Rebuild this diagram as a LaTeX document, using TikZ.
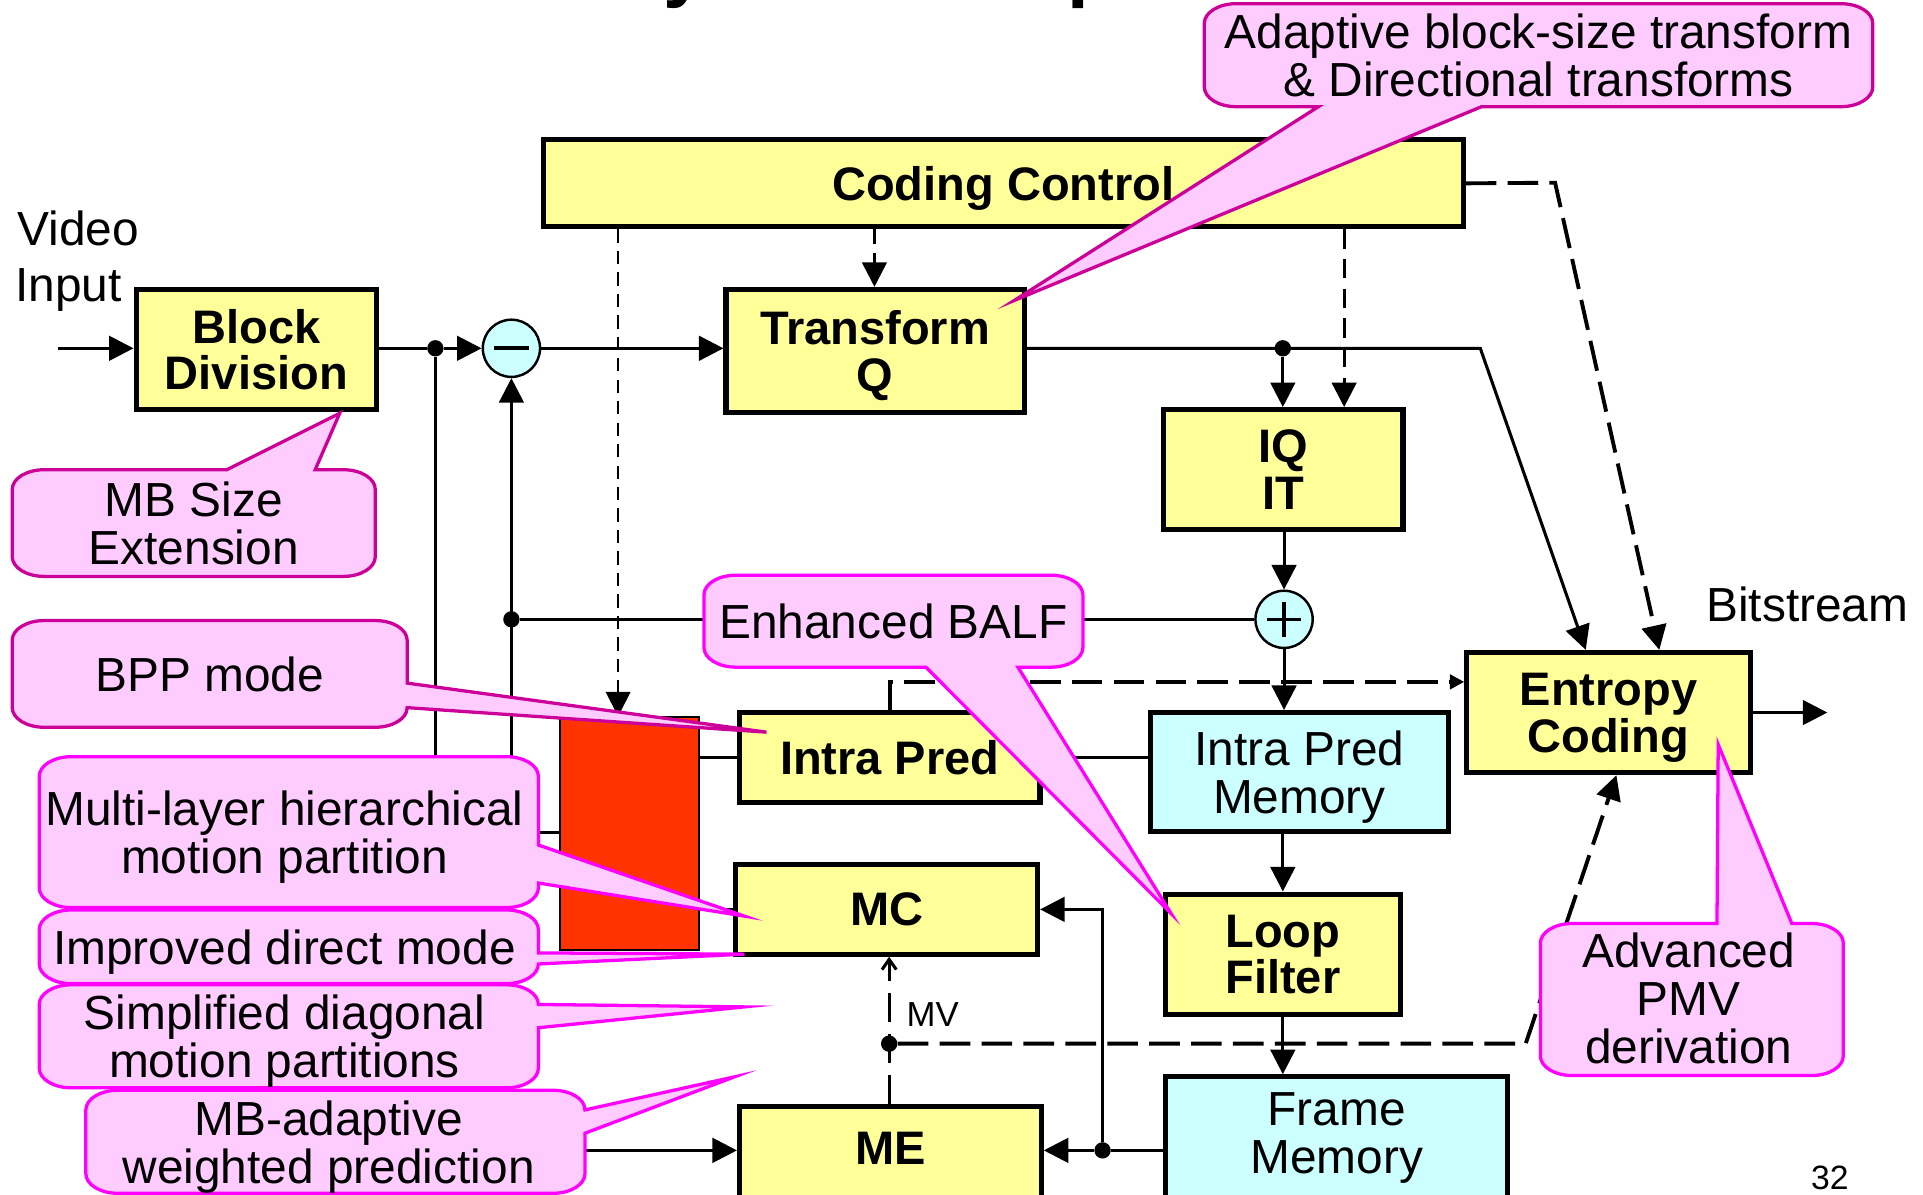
\documentclass[tikz,border=0pt]{standalone}
\usepackage{fontspec}
\setmainfont{Liberation Sans}
\usetikzlibrary{arrows.meta,calc}

\definecolor{boxyellow}{HTML}{FFFF99}
\definecolor{memcyan}{HTML}{CCFFFF}
\definecolor{notepink}{HTML}{FFCCFF}
\definecolor{notemag}{HTML}{FF00FF}
\definecolor{notedark}{HTML}{CC0099}
\definecolor{switchred}{HTML}{FF3300}

% corner radii of the call-out outlines
\newcommand\noterx{26}
\newcommand\notery{16}
% call-out outline: colour, x1, y1, x2, y2, then the pointer points
% inserted on the top, right, bottom and left edge (walking clockwise)
\newcommand\calloutshape[9]{%
  \filldraw[fill=notepink, draw=#1, line width=1.6pt, line join=miter, miter limit=20]
    ({#2+\noterx},#3) #6 -- ({#4-\noterx},#3)
    arc[start angle=-90, end angle=0, x radius=\noterx, y radius=\notery] #7
    -- (#4,{#5-\notery})
    arc[start angle=0, end angle=90, x radius=\noterx, y radius=\notery] #8
    -- ({#2+\noterx},#5)
    arc[start angle=90, end angle=180, x radius=\noterx, y radius=\notery] #9
    -- (#2,{#3+\notery})
    arc[start angle=180, end angle=270, x radius=\noterx, y radius=\notery] -- cycle;}

\tikzset{
  lbl/.style={inner sep=0pt, align=center, text depth=0pt,
    font=\fontsize{23.4pt}{23.4pt}\selectfont},
  blbl/.style={inner sep=0pt, align=center, text depth=0pt,
    font=\fontsize{23pt}{22.8pt}\selectfont\bfseries},
  wh/.style 2 args={minimum width={(#1-4)*0.6pt}, minimum height={(#2-4)*0.6pt}},
  blockbox/.style={draw, line width=2.5pt, fill=boxyellow, blbl},
  membox/.style={draw, line width=2.5pt, fill=memcyan, lbl},
  sumnode/.style={circle, draw, line width=1.2pt, fill=memcyan, minimum size=28pt, inner sep=0pt},
  junction/.style={circle, fill=black, minimum size=8pt, inner sep=0pt},
  wire/.style={line width=1.5pt},
  bigtip/.style={-{Triangle[length=12pt,width=12pt]}},
  arr/.style={wire, bigtip},
  ctlthin/.style={line width=1.1pt, dash pattern=on 6.5pt off 4pt, bigtip},
  ctlmid/.style={line width=1.3pt, dash pattern=on 7pt off 4.5pt, bigtip},
  ctlwide/.style={line width=1.6pt, dash pattern=on 9.5pt off 5pt, bigtip},
  ctlthick/.style={line width=1.9pt, dash pattern=on 15pt off 5.5pt},
}

\begin{document}
\begin{tikzpicture}[x=0.6pt,y=-0.6pt]
\fill[white] (0,0) rectangle (1568,974);
\useasboundingbox (0,0) rectangle (1568,974);

% heading letters cut by the top edge
\node[anchor=base west, inner sep=0pt, font=\fontsize{38pt}{38pt}\selectfont\bfseries] (head1) at (541,-6) {y};
\node[anchor=base west, inner sep=0pt, font=\fontsize{38pt}{38pt}\selectfont\bfseries] (head2) at (870,-6) {p};

% free labels
\node[anchor=base west, lbl] (vid1) at (14,200) {Video};
\node[anchor=base west, lbl] (vid2) at (12,246) {Input};
\node[anchor=base west, lbl] (bits) at (1391,507) {Bitstream};
\node[anchor=base west, inner sep=0pt, font=\fontsize{17pt}{17pt}\selectfont] (mv) at (739,837) {MV};
\node[anchor=base, inner sep=0pt, font=\fontsize{16.5pt}{16.5pt}\selectfont] (pg) at (1492,970) {32};

% processing blocks
\node[blockbox, wh={754}{75}] (cc) at (818,149.5) {Coding Control};
\node[blockbox, wh={200}{102}] (bd) at (209,285) {Block\\Division};
\node[blockbox, wh={247}{104}] (tq) at (713.5,286) {Transform\\Q};
\node[blockbox, wh={199}{102}] (iq) at (1046.5,383) {IQ\\IT};
\node[blockbox, wh={235}{102}] (ec) at (1311.5,581) {Entropy\\Coding};
\node[blockbox, wh={249}{77}] (ip) at (725.5,617.5) {Intra Pred};
\node[membox, wh={247}{101}] (ipm) at (1059.5,629.5) {Intra Pred\\Memory};
\node[blockbox, wh={196}{102}] (lf) at (1046,778) {Loop\\Filter};
\node[membox, wh={283}{124}] (fm) at (1089.5,938) {};
\node[lbl] (fmtxt) at (1090,924) {Frame\\Memory};
\node[blockbox, wh={250}{77}] (mc) at (723,741.5) {MC};
\node[blockbox, wh={250}{100}] (me) at (726,950) {};
\node[blbl] (metxt) at (726,936) {ME};
\node[draw, line width=1pt, fill=switchred, inner sep=0pt,
  minimum width=113*0.6pt, minimum height=190*0.6pt] (sw) at (513.5,680) {};

% adders
\node[sumnode] (minus) at (417,284) {};
\draw[line width=2pt] ([xshift=-8.4pt]minus.center) -- ([xshift=8.4pt]minus.center);
\node[sumnode] (plus) at (1047,505) {};
\draw[line width=1.6pt] ([xshift=-8.4pt]plus.center) -- ([xshift=8.4pt]plus.center)
  ([yshift=-8.4pt]plus.center) -- ([yshift=8.4pt]plus.center);

% junctions and bends
\node[junction] (d1) at (355,284) {};
\node[junction] (d2) at (417,505) {};
\node[junction] (d3) at (1046,284) {};
\node[junction] (d4) at (899,938) {};
\node[junction] (d5) at (725,851) {};
\coordinate (vin) at (47,284);
\coordinate (swl) at (417,679);
\coordinate (tqk) at (1207,284);
\coordinate (cck) at (1268,149);
\coordinate (ipk) at (726,556);
\coordinate (mvk) at (1244,851);
\coordinate (bsout) at (1490,580);

% signal path
\draw[arr] (vin) -- (vin -| bd.west);
\draw[wire] (d1 -| bd.east) -- (d1);
\draw[arr] (d1) -- (minus);
\draw[arr] (d1) |- (me.west |- d4);
\draw[arr] (minus) -- (minus.east -| tq.west);
\draw[arr] (swl -| sw.west) -- (swl) -- (minus);
\draw[wire] (d2) -- (plus);
\draw[arr] (tq.east |- d3) -- (tqk) -- (ec.north -| 1293,0);
\draw[arr] (d3) -- (d3 |- iq.north);
\draw[arr] (plus |- iq.south) -- (plus);
\draw[arr] (plus) -- (plus |- ipm.north);
\draw[wire] (ip.west -| sw.east) -- (ip.west);
\draw[wire] (ip.east) -- (ip.east -| ipm.west);
\draw[wire] (mc.west -| sw.east) -- (mc.west);
\draw[arr] (lf.north |- ipm.south) -- (lf.north);
\draw[arr] (lf.south) -- (lf.south |- fm.north);
\draw[wire] (fm.west |- d4) -- (d4);
\draw[arr] (d4) -- (d4 -| me.east);
\draw[arr] (d4) |- (mc.east);
\draw[arr] (ec.east) -- (ec.east -| bsout);

% control and side information
\draw[ctlthin] (cc.south -| 504,0) -- (sw.north -| 504,0);
\draw[ctlmid] (cc.south -| 713,0) -- (tq.north -| 713,0);
\draw[ctlwide] (cc.south -| 1096,0) -- (iq.north -| 1096,0);
\draw[ctlthick, bigtip] (cc.east) -- (cck) -- (ec.north -| 1353,0);
\draw[ctlthick, -{Triangle[length=7pt,width=7pt]}] (ip.north -| ipk) -- (ipk) -- (ipk -| ec.west);
\draw[line width=1.5pt, dash pattern=on 14pt off 6pt, -{Straight Barb[length=5pt,width=7pt]}]
  (me.north -| d5) -- (mc.south -| d5);
\draw[ctlthick, bigtip] (d5) -- (mvk) -- (ec.south -| 1318,0);

% call-outs
\calloutshape{notedark}{982}{3}{1527}{87}{}{}{-- (1208,87) -- (827,245) -- (1075,87)}{}
\node[lbl] (nt1) at (1254.5,45) {Adaptive block-size transform\\\& Directional transforms};

\calloutshape{notedark}{10}{383}{306}{470}{-- (185,383) -- (277,337) -- (257,383)}{}{}{}
\node[lbl] (nt2) at (158,426.5) {MB Size\\Extension};

\calloutshape{notedark}{10}{506}{332}{593}{}{-- (332,557) -- (625,597) -- (332,577)}{}{}
\node[lbl] (nt3) at (171,549.5) {BPP mode};

\calloutshape{notemag}{574}{469}{883}{544}{}{}{-- (830,544) -- (955,745) -- (755,544)}{}
\node[lbl] (nt4) at (728.5,506.5) {Enhanced BALF};

\calloutshape{notemag}{32}{617}{439}{740}{}{-- (439,689) -- (607,747) -- (439,720)}{}{}
\node[lbl] (nt5) at (232,678.5) {Multi-layer hierarchical\\motion partition};

\calloutshape{notemag}{32}{742}{439}{802}{}{-- (439,777) -- (607,778) -- (439,786)}{}{}
\node[lbl] (nt6) at (232,772) {Improved direct mode};

\calloutshape{notemag}{32}{803}{439}{887}{}{-- (439,819) -- (607,821) -- (439,838)}{}{}
\node[lbl] (nt7) at (232,845) {Simplified diagonal\\motion partitions};

\calloutshape{notemag}{70}{889}{477}{973}{}{-- (477,905) -- (599,878) -- (477,924)}{}{}
\node[lbl] (nt8) at (268,931) {MB-adaptive\\weighted prediction};

\calloutshape{notemag}{1256}{753}{1503}{877}{-- (1400,753) -- (1401,607) -- (1461,753)}{}{}{}
\node[lbl] (nt9) at (1377,814) {Advanced\\PMV\\derivation};
\end{tikzpicture}
\end{document}
